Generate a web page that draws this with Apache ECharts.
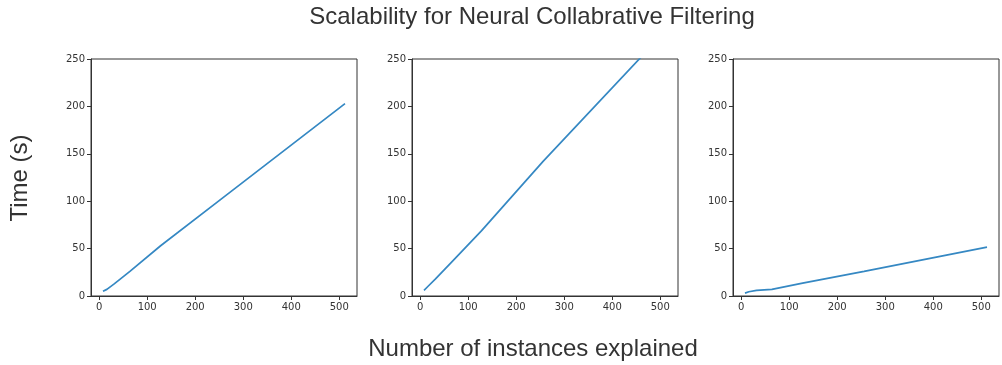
<!DOCTYPE html>
<html>
<head>
<meta charset="utf-8">
<script src="https://cdn.jsdelivr.net/npm/echarts@6/dist/echarts.min.js"></script>
<style>
  html, body { margin: 0; padding: 0; background: #fff; }
  #chart { width: 1002px; height: 365px; }
</style>
</head>
<body>
<div id="chart"></div>
<script>
// Number of instances explained (x) for each run
const instances = [8, 16, 32, 64, 128, 256, 512];
// Time in seconds for each of the three panels
const timePanel1 = [5, 7, 13, 26, 53, 103, 203];
const timePanel2 = [6, 10, 18, 35, 69, 142, 280];
const timePanel3 = [3, 4.5, 6, 7, 13.5, 26, 51.5];
const xTicks = [0, 100, 200, 300, 400, 500];
const yTicks = [0, 50, 100, 150, 200, 250];

const panels = [timePanel1, timePanel2, timePanel3];
const gridLefts = [91, 412, 733];
const lineColor = '#3588c3';
const axisColor = '#333';
const tickFont = { fontFamily: 'DejaVu Sans', fontSize: 10, color: '#333' };

const grids = [], xAxes = [], yAxes = [], series = [];
panels.forEach((vals, i) => {
  grids.push({
    left: gridLefts[i], top: 59, width: 266, height: 237,
    show: true, borderColor: axisColor, borderWidth: 1, backgroundColor: 'transparent'
  });
  xAxes.push({
    type: 'value', gridIndex: i, min: -17, max: 537,
    splitLine: { show: false },
    axisLine: { show: true, onZero: false, lineStyle: { color: axisColor, width: 1 } },
    axisTick: { show: true, length: 4, customValues: xTicks, lineStyle: { color: axisColor } },
    axisLabel: Object.assign({ margin: 6, customValues: xTicks }, tickFont)
  });
  yAxes.push({
    type: 'value', gridIndex: i, min: 0, max: 250, interval: 50,
    splitLine: { show: false },
    axisLine: { show: true, onZero: false, lineStyle: { color: axisColor, width: 1 } },
    axisTick: { show: true, length: 4, lineStyle: { color: axisColor } },
    axisLabel: Object.assign({ margin: 6, customValues: yTicks }, tickFont)
  });
  series.push({
    type: 'line', xAxisIndex: i, yAxisIndex: i,
    data: instances.map((x, k) => [x, vals[k]]),
    showSymbol: false, clip: true,
    lineStyle: { color: lineColor, width: 1.7 }
  });
});

const chart = echarts.init(document.getElementById('chart'), null, { renderer: 'canvas' });
chart.setOption({
  animation: false,
  backgroundColor: '#fff',
  grid: grids,
  xAxis: xAxes,
  yAxis: yAxes,
  series: series,
  graphic: [
    {
      type: 'text', x: 532, y: 17,
      style: { text: 'Scalability for Neural Collabrative Filtering', fontFamily: 'Liberation Sans',
               fontSize: 24, fill: '#333', textAlign: 'center', textVerticalAlign: 'middle' }
    },
    {
      type: 'text', x: 533, y: 349,
      style: { text: 'Number of instances explained', fontFamily: 'Liberation Sans',
               fontSize: 24, fill: '#333', textAlign: 'center', textVerticalAlign: 'middle' }
    },
    {
      type: 'text', x: 20, y: 178, rotation: Math.PI / 2,
      style: { text: 'Time (s)', fontFamily: 'Liberation Sans',
               fontSize: 24, fill: '#333', textAlign: 'center', textVerticalAlign: 'middle' }
    }
  ]
});
</script>
</body>
</html>
